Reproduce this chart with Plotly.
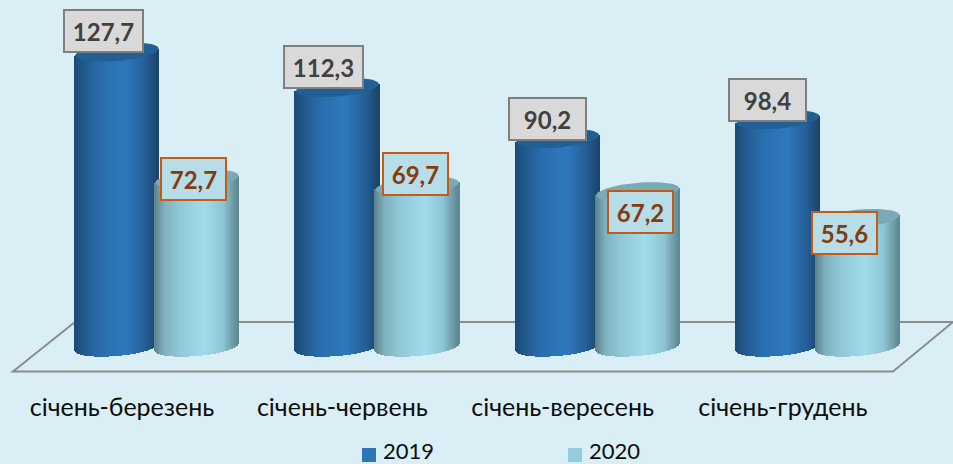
import numpy as np
import plotly.graph_objects as go

categories = ["січень-березень", "січень-червень", "січень-вересень", "січень-грудень"]
values_2019 = [127.7, 112.3, 90.2, 98.4]
values_2020 = [72.7, 69.7, 67.2, 55.6]
series_names = ["2019", "2020"]

# pixel geometry helpers (style only)
W, H = 953, 464
PLOT_BOTTOM = 372
PX_PER_UNIT = 2.31
BASE_PX = 347
GROUP_PX = 220.3
FIRST_CENTER_PX = 157
CYL_W = 83 / GROUP_PX
OFFSET = 40 / GROUP_PX
RY = 9 / PX_PER_UNIT
TILT = 3.5 / PX_PER_UNIT
N = 84
s = np.linspace(-1, 1, N)

def hexrgb(c):
    return [int(c[i:i + 2], 16) for i in (1, 3, 5)]

def gradient(stops):
    pos = [p for p, _ in stops]
    rgb = np.array([hexrgb(c) for _, c in stops], dtype=float)
    t = (s + 1) / 2
    return ["rgb(%d,%d,%d)" % tuple(np.interp(ti, pos, rgb[:, k]) for k in range(3)) for ti in t]

dark = gradient([(0, "#1b4a75"), (0.12, "#225a8f"), (0.3, "#2a6dab"), (0.62, "#2e79bd"),
                 (0.85, "#255f98"), (1, "#1b466c")])
light = gradient([(0, "#5c838e"), (0.12, "#80b1bf"), (0.3, "#92c8d7"), (0.6, "#a2dcec"),
                  (0.82, "#8fc6d6"), (1, "#5f8993")])

def cylinder(name, values, off, colors, cap):
    xs, bases, heights, cols = [], [], [], []
    for g, v in enumerate(values):
        for si, col in zip(s, colors):
            bottom = RY * np.sqrt(1 - si ** 2) * -1 + TILT * si
            top = v + TILT * si
            xs.append(g + off + si * CYL_W / 2)
            bases.append(bottom)
            heights.append(top - bottom)
            cols.append(col)
    body = go.Bar(x=xs, y=heights, base=bases, width=1.7 / GROUP_PX, name=name,
                  marker=dict(color=cols, line=dict(width=0)), showlegend=False, hoverinfo="skip")
    theta = np.linspace(0, 2 * np.pi, 73)
    cx, cy = [], []
    for g, v in enumerate(values):
        cx += list(g + off + np.cos(theta) * CYL_W / 2) + [None]
        cy += list(v + TILT * np.cos(theta) + RY * np.sin(theta)) + [None]
    lid = go.Scatter(x=cx, y=cy, mode="lines", fill="toself", fillcolor=cap,
                     line=dict(width=0, color=cap), showlegend=False, hoverinfo="skip")
    return body, lid

b1, c1 = cylinder(series_names[0], values_2019, -OFFSET, dark, "#225f94")
b2, c2 = cylinder(series_names[1], values_2020, OFFSET, light, "#7aa9b7")

fig = go.Figure([b1, b2, c1, c2])

FONT = "Lato, 'Open Sans', sans-serif"
annotations = []
off_2019 = [(-14, -21), (-14, -21), (-10, -20), (-10, -20)]
off_2020 = [(-4, 0), (-2, -12), (3, 20), (-13, 14)]
w_2019 = [77, 77, 75, 75]
for g, v in enumerate(values_2019):
    annotations.append(dict(x=g - OFFSET, y=v, text=f"{v:.1f}".replace(".", ","), showarrow=False,
                            xshift=off_2019[g][0], yshift=-off_2019[g][1],
                            width=w_2019[g], height=40, borderpad=0, borderwidth=2,
                            bgcolor="#d9d9d9", bordercolor="#7f7f7f",
                            font=dict(family=FONT, size=24, color="#404040", weight="bold")))
for g, v in enumerate(values_2020):
    annotations.append(dict(x=g + OFFSET, y=v, text=f"{v:.1f}".replace(".", ","), showarrow=False,
                            xshift=off_2020[g][0], yshift=-off_2020[g][1],
                            width=63, height=40, borderpad=0, borderwidth=2,
                            bgcolor="#b7dde8", bordercolor="#c55a11",
                            font=dict(family=FONT, size=24, color="#843c0c", weight="bold")))

def fx(px):
    return px / W

def fy(py):
    return 1 - py / PLOT_BOTTOM

shapes = [dict(type="path", xref="paper", yref="paper", layer="below",
               path=f"M {fx(75)} {fy(322)} L {fx(953)} {fy(322)} L {fx(893)} {fy(371.5)} L {fx(13)} {fy(371.5)} Z",
               line=dict(color="#8c8c8c", width=2))]

# legend: colour squares and their labels
legend_colors = ["#2e75b6", "#95cde0"]
legend_left = [362, 568]
for nm, col, left in zip(series_names, legend_colors, legend_left):
    shapes.append(dict(type="rect", xref="paper", yref="paper", x0=fx(left), x1=fx(left + 14),
                       y0=fy(462), y1=fy(448), fillcolor=col, line=dict(width=0)))
    annotations.append(dict(xref="paper", yref="paper", x=fx(left + 20), y=fy(450), text=nm,
                            xanchor="left", yanchor="middle", showarrow=False, borderpad=0,
                            font=dict(family=FONT, size=22, color="#0d0d0d")))

fig.update_layout(
    width=W, height=H, autosize=False,
    margin=dict(l=0, r=0, t=0, b=H - PLOT_BOTTOM, pad=0),
    barmode="overlay", bargap=0,
    paper_bgcolor="#daeef5", plot_bgcolor="#daeef5",
    showlegend=False,
    xaxis=dict(range=[-FIRST_CENTER_PX / GROUP_PX, (W - FIRST_CENTER_PX) / GROUP_PX],
               tickmode="array", tickvals=[g - 35 / GROUP_PX for g in range(4)], ticktext=categories,
               tickfont=dict(family=FONT, size=25, color="#0d0d0d"),
               ticks="outside", ticklen=13, tickcolor="rgba(0,0,0,0)",
               showgrid=False, zeroline=False, showline=False),
    yaxis=dict(range=[(BASE_PX - PLOT_BOTTOM) / PX_PER_UNIT, BASE_PX / PX_PER_UNIT],
               visible=False, showgrid=False, zeroline=False),
    annotations=annotations, shapes=shapes,
)
fig.write_html("out.html", config=dict(displayModeBar=False),
               post_script="document.body.style.margin='0';document.body.style.background='#daeef5';")
